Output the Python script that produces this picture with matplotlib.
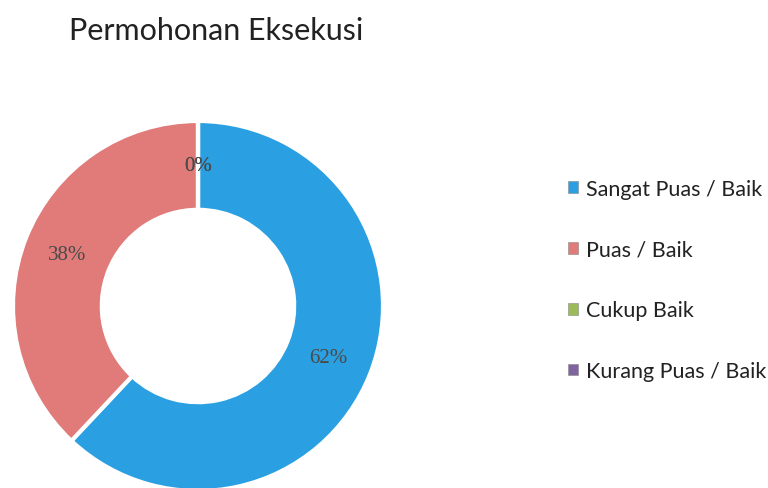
import matplotlib
matplotlib.use("Agg")
import matplotlib.pyplot as plt
from matplotlib.patches import Patch

# data
categories = ["Sangat Puas / Baik", "Puas / Baik", "Cukup Baik", "Kurang Puas / Baik"]
values = [62, 38, 0, 0]
colors = ["#2A9FE2", "#E07B79", "#9BBB59", "#8064A2"]
title = "Permohonan Eksekusi"

fig = plt.figure(figsize=(7.68, 4.89), dpi=100)
fig.patch.set_facecolor("white")

# square axes holding the donut
ax = fig.add_axes([13 / 768, -3 / 489, 370 / 768, 370 / 489])
wedges, texts, autotexts = ax.pie(
    values,
    colors=colors,
    startangle=90,
    counterclock=False,
    radius=1.0,
    autopct=lambda p: f"{p:.0f}%",
    pctdistance=0.76,
    wedgeprops=dict(width=0.48, edgecolor="white", linewidth=3),
)
for t in autotexts:
    t.set_color("#4a4a4a")
    t.set_fontsize(15)
    t.set_family("Liberation Serif")
ax.set_xlim(-1, 1)
ax.set_ylim(-1, 1)
ax.set_aspect("equal")
ax.axis("off")

fig.text(216 / 768, 1 - 31 / 489, title, ha="center", va="center",
         fontsize=22, family="Lato", color="#222222")

handles = [Patch(facecolor=c, edgecolor="#888888", linewidth=0.4) for c in colors]
leg = fig.legend(handles, categories, loc="center left",
                 bbox_to_anchor=(549 / 768, 1 - 281 / 489),
                 frameon=False, handlelength=0.45, handleheight=0.45,
                 handletextpad=0.35, labelspacing=1.9,
                 prop={"family": "Lato", "size": 15.5})
for t in leg.get_texts():
    t.set_color("#222222")

fig.savefig("out.png", dpi=100)
